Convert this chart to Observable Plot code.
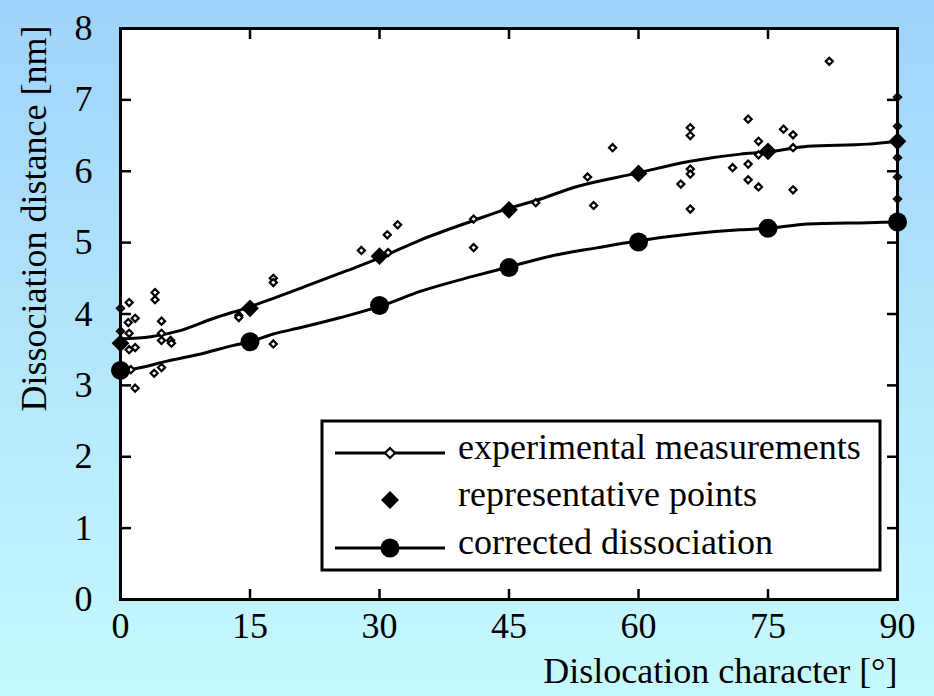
<!DOCTYPE html>
<html>
<head>
<meta charset="utf-8">
<script src="https://cdn.jsdelivr.net/npm/d3@7"></script>
<script src="https://cdn.jsdelivr.net/npm/@observablehq/plot@0.6"></script>
<style>
  html, body { margin: 0; padding: 0; }
  body { width: 934px; height: 696px; background: linear-gradient(#9fd3fb, #c6f9fd); position: relative; overflow: hidden; font-family: "Liberation Serif", "DejaVu Serif", serif; }
  #chart { position: absolute; left: 0; top: 0; }
  #legend { position: absolute; left: 0; top: 0; }
  svg text { font-family: "Liberation Serif", "DejaVu Serif", serif !important; }
</style>
</head>
<body>
<div id="chart"></div>
<div id="legend"></div>
<script>
// ---- data ----
const expAngle = [0, 1.0, 1.7, 0.9, 0, 1.0, 1.0, 1.7, 1.7, 1.2,
  4.0, 4.0, 4.75, 4.75, 4.75, 5.8, 5.9, 3.9, 4.75,
  13.7, 13.7, 17.7, 17.7, 17.7,
  27.9, 30.9, 32.1, 31.0,
  40.9, 40.9, 48.1, 54.1, 54.8, 57.0,
  64.9, 66.0, 66.0, 66.0, 66.0, 66.0,
  70.9, 72.7, 72.7, 72.7, 73.9, 73.9, 73.9,
  76.8, 77.9, 77.9, 77.9, 82.1,
  90, 90, 90, 90, 90];
const expDist = [4.08, 4.16, 3.94, 3.88, 3.76, 3.73, 3.50, 3.53, 2.96, 3.22,
  4.30, 4.20, 3.90, 3.73, 3.63, 3.63, 3.59, 3.17, 3.25,
  3.98, 3.95, 4.50, 4.44, 3.58,
  4.89, 5.11, 5.25, 4.86,
  5.33, 4.93, 5.56, 5.92, 5.52, 6.33,
  5.82, 6.61, 6.50, 6.03, 5.96, 5.47,
  6.05, 6.73, 6.10, 5.88, 6.42, 6.23, 5.78,
  6.59, 6.51, 6.33, 5.74, 7.54,
  7.04, 6.63, 6.19, 5.92, 5.61];

const repAngle = [0, 15, 30, 45, 60, 75, 90];
const repDist = [3.59, 4.08, 4.81, 5.46, 5.97, 6.28, 6.42];

const fitAngle = [0, 3.5, 7, 10.8, 14.7, 17.7, 21.7, 26.3, 30.1, 34.8, 40.9, 44.7, 48.1, 53, 59.7, 66, 71.8, 75, 79.6, 86.6, 90];
const fitDist = [3.65, 3.68, 3.77, 3.94, 4.09, 4.22, 4.40, 4.61, 4.79, 5.04, 5.31, 5.47, 5.59, 5.79, 5.97, 6.14, 6.24, 6.27, 6.35, 6.38, 6.42];

// corrected dissociation: curve and marked points
const corrLineAngle = [0, 1.5, 5.4, 9.3, 13.1, 15, 17.7, 20.9, 25.5, 30.1, 34.8, 40.9, 44.7, 49.8, 55.3, 59.7, 66, 71.8, 75, 79.6, 86.6, 90];
const corrLineDist = [3.21, 3.23, 3.34, 3.44, 3.56, 3.61, 3.72, 3.81, 3.95, 4.11, 4.32, 4.53, 4.65, 4.81, 4.93, 5.02, 5.12, 5.18, 5.20, 5.26, 5.28, 5.29];
const corrAngle = [0, 15, 30, 45, 60, 75, 90];
const corrDist = [3.21, 3.61, 4.12, 4.65, 5.01, 5.20, 5.29];

const xTicks = [0, 15, 30, 45, 60, 75, 90];
const yTicks = [0, 1, 2, 3, 4, 5, 6, 7, 8];

const xTitle = "Dislocation character [°]";
const yTitle = "Dissociation distance [nm]";
const legendLabels = ["experimental measurements", "representative points", "corrected dissociation"];

// ---- build tables ----
const exp = expAngle.map((a, i) => ({a, d: expDist[i]}));
const rep = repAngle.map((a, i) => ({a, d: repDist[i]}));
const fit = fitAngle.map((a, i) => ({a, d: fitDist[i]}));
const corrLine = corrLineAngle.map((a, i) => ({a, d: corrLineDist[i]}));
const corr = corrAngle.map((a, i) => ({a, d: corrDist[i]}));

const font = "Liberation Serif";

const chart = Plot.plot({
  width: 934,
  height: 696,
  marginLeft: 120,
  marginRight: 37,
  marginTop: 28,
  marginBottom: 97,
  x: {domain: [0, 90]},
  y: {domain: [0, 8]},
  style: {background: "transparent", fontFamily: font, fontSize: "36px", color: "black", overflow: "visible"},
  marks: [
    Plot.frame({fill: "white"}),
    Plot.line(fit, {x: "a", y: "d", curve: "monotone-x", stroke: "black", strokeWidth: 3}),
    Plot.line(corrLine, {x: "a", y: "d", curve: "monotone-x", stroke: "black", strokeWidth: 3}),
    Plot.dot(exp, {x: "a", y: "d", symbol: "diamond2", r: 3.2, fill: "white", stroke: "black", strokeWidth: 2.2}),
    Plot.dot(rep, {x: "a", y: "d", symbol: "diamond2", r: 8, fill: "black", stroke: "none"}),
    Plot.dot(corr, {x: "a", y: "d", symbol: "circle", r: 9.5, fill: "black", stroke: "none"}),
    // tick labels
    Plot.axisX({ticks: xTicks, tickSize: 0, tickPadding: 13, label: null, fontSize: 36, tickFormat: d => String(d)}),
    Plot.axisY({ticks: yTicks, tickSize: 0, tickPadding: 28, label: null, fontSize: 36, tickFormat: d => String(d)}),
    // inward tick marks on all four sides
    Plot.axisX({ticks: xTicks, tickSize: 10, text: null, label: null, dy: -10, strokeWidth: 2.5}),
    Plot.axisX({anchor: "top", ticks: xTicks, tickSize: 10, text: null, label: null, dy: 10, strokeWidth: 2.5}),
    Plot.axisY({ticks: yTicks, tickSize: 11, text: null, label: null, dx: 11, strokeWidth: 2.5}),
    Plot.axisY({anchor: "right", ticks: yTicks, tickSize: 11, text: null, label: null, dx: -11, strokeWidth: 2.5}),
    Plot.frame({stroke: "black", strokeWidth: 3}),
    // axis titles
    Plot.text([xTitle], {frameAnchor: "bottom-right", text: d => d, textAnchor: "end", lineAnchor: "middle", dy: 72, fontSize: 36, fill: "black"}),
    Plot.text([yTitle], {frameAnchor: "top-left", text: d => d, rotate: -90, textAnchor: "middle", lineAnchor: "middle", dx: -86, dy: 190, fontSize: 36, fill: "black"})
  ]
});
document.getElementById("chart").appendChild(chart);

// ---- legend ----
const L = d3.select("#legend").append("svg")
  .attr("width", 934).attr("height", 696)
  .style("position", "absolute").style("left", "0px").style("top", "0px")
  .style("pointer-events", "none");
const box = {x: 322, y: 421, w: 558, h: 149};
L.append("rect").attr("x", box.x).attr("y", box.y).attr("width", box.w).attr("height", box.h)
  .attr("fill", "white").attr("stroke", "black").attr("stroke-width", 3);
const rowY = [453, 500, 548];
const diamond = (cx, cy, h) => `M${cx},${cy - h}L${cx + h},${cy}L${cx},${cy + h}L${cx - h},${cy}Z`;
// row 1: line + open diamond
L.append("line").attr("x1", 335).attr("x2", 445).attr("y1", rowY[0]).attr("y2", rowY[0]).attr("stroke", "black").attr("stroke-width", 3);
L.append("path").attr("d", diamond(390, rowY[0], 5)).attr("fill", "white").attr("stroke", "black").attr("stroke-width", 2.2);
// row 2: filled diamond
L.append("path").attr("d", diamond(390, rowY[1], 9)).attr("fill", "black");
// row 3: line + circle
L.append("line").attr("x1", 335).attr("x2", 445).attr("y1", rowY[2]).attr("y2", rowY[2]).attr("stroke", "black").attr("stroke-width", 3);
L.append("circle").attr("cx", 390).attr("cy", rowY[2]).attr("r", 9.5).attr("fill", "black");
legendLabels.forEach((t, i) => {
  L.append("text").attr("x", 458).attr("y", rowY[i] + 6).attr("font-size", 36)
    .attr("fill", "black").text(t);
});
</script>
</body>
</html>
